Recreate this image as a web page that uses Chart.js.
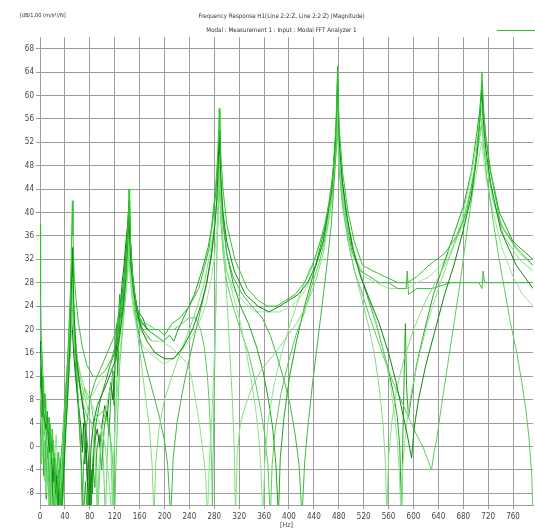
<!DOCTYPE html>
<html><head><meta charset="utf-8">
<script src="https://cdn.jsdelivr.net/npm/chart.js@4.4.0/dist/chart.umd.min.js"></script>
<style>html,body{margin:0;padding:0;background:#fff;}canvas{display:block;}</style>
</head><body>
<canvas id="c" width="535" height="530"></canvas>
<script>
const titleText = "Frequency Response H1(Line 2:2:Z, Line 2:2:Z) (Magnitude)";
const subtitleText = "Modal : Measurement 1 : Input : Modal FFT Analyzer 1";
const yUnit = "[dB/1.00 (m/s\u00B2)/N]";
const xUnit = "[Hz]";
const xTicks = [0,40,80,120,160,200,240,280,320,360,400,440,480,520,560,600,640,680,720,760];
const yTicks = [-8,-4,0,4,8,12,16,20,24,28,32,36,40,44,48,52,56,60,64,68];

const curve1 = [[0,38],[1,26],[2,19],[4,14],[6,9],[9,6],[12,3],[15,5],[18,-2],[21,1],[24,-5],[27,-9],[30,-4],[33,-11],[36,-3],[40,6],[44,14],[47,22],[49,27],[51,37],[52,42],[53,36],[55,29],[58,25],[62,21],[68,17],[75,14],[85,12],[95,12],[105,13],[115,15],[123,18],[131,24],[137,29],[140,34],[142,39],[143,44],[144,39],[146,34],[149,29],[155,24],[163,21],[175,20],[190,20],[200,19],[212,21],[225,22],[240,24],[255,27],[265,31],[272,34],[276,38],[282,44],[285,49],[287,54],[288,57.8],[289,53],[291,49],[294,44],[300,38],[313,32],[333,27],[350,25],[365,24],[380,24],[395,25],[410,26],[425,28],[438,31],[450,35],[458,38],[465,42],[470,46],[475,54],[477,60],[478,65],[479,60],[481,54],[486,47],[495,40],[505,35],[518,31],[535,30],[555,29],[575,28],[590,28],[605,29],[625,31],[650,33],[670,36],[685,40],[698,47],[705,54],[708,59],[710,64],[712,59],[715,54],[722,48],[740,38],[765,34],[792,31]];

const curve2 = [[0,18],[1,17],[3,10],[5,6],[7,5],[9,3],[11,5],[13,2],[15,-1],[17,2],[19,-3],[21,-6],[23,-2],[25,-8],[27,-5],[29,-10],[31,-6],[33,-12],[36,-8],[39,-3],[42,4],[45,10],[48,17],[50,25],[52,34],[53,29],[55,22],[58,16],[62,12],[66,9],[70,6],[74,1],[78,-12],[82,0],[86,4],[92,7],[100,9],[108,11],[115,13],[122,15],[128,19],[134,24],[138,29],[141,35],[143,41],[144,36],[146,31],[150,27],[156,23],[163,20],[172,18],[185,16],[200,15],[215,15],[230,17],[245,20],[258,24],[268,28],[276,33],[281,38],[284,42],[286,47],[288,54],[289,50],[291,45],[294,40],[300,35],[312,30],[330,26],[350,24],[368,23],[385,24],[400,25],[415,26],[430,28],[443,31],[455,35],[463,40],[469,44],[474,51],[476,56],[478,63],[479,58],[481,52],[485,46],[492,40],[502,34],[515,29],[530,25],[545,21],[560,16],[572,11],[582,6],[590,2],[597,-2],[601,3],[608,8],[620,14],[635,20],[650,26],[665,31],[680,37],[693,43],[702,50],[706,55],[710,61],[712,56],[716,51],[724,45],[740,37],[765,31],[792,27]];

const curve3 = [[0,6],[2,4],[4,-1],[6,3],[8,-3],[10,-8],[12,-2],[14,-12],[17,-5],[20,-1],[23,-7],[26,-12],[29,-4],[32,-9],[35,-2],[38,4],[42,10],[46,17],[49,23],[51,28],[52,30],[53,26],[56,20],[60,15],[66,11],[73,8],[80,5],[85,2],[89,-3],[92,-12],[95,-3],[100,3],[107,7],[115,11],[123,15],[130,20],[135,24],[139,29],[141,33],[143,38],[144,34],[147,29],[151,24],[157,19],[163,14],[170,8],[176,3],[180,-3],[183,-12],[186,-3],[191,3],[200,8],[212,12],[225,16],[240,20],[253,24],[264,28],[273,33],[279,37],[283,41],[286,45],[288,50],[289,46],[291,41],[294,35],[298,29],[302,22],[306,14],[309,8],[312,0],[314,-12],[317,-1],[322,4],[330,7],[340,10],[355,13],[370,15],[385,17],[398,19],[412,21],[428,24],[442,28],[455,33],[463,38],[469,43],[474,50],[476,54],[478,60],[479,55],[481,50],[485,44],[493,37],[503,31],[515,26],[527,21],[537,16],[545,10],[551,4],[555,-3],[557,-12],[560,-2],[565,4],[573,10],[585,15],[600,20],[620,25],[640,29],[660,33],[678,38],[692,44],[700,49],[706,53],[710,56],[713,52],[718,48],[728,42],[745,36],[770,32],[792,30]];

const curve4 = [[0,4],[2,8],[4,2],[6,-4],[8,1],[10,-6],[12,0],[14,-4],[16,-10],[18,-2],[20,3],[22,-3],[24,-12],[27,-4],[30,-1],[33,-8],[36,-12],[39,2],[43,10],[47,18],[50,25],[52,32],[53,27],[55,21],[58,15],[61,9],[64,3],[66,-3],[68,-12],[70,-3],[74,3],[80,8],[88,11],[96,13],[104,15],[112,17],[120,19],[127,23],[133,26],[138,31],[141,35],[143,40],[144,36],[146,31],[150,26],[156,21],[163,17],[172,13],[182,9],[192,5],[200,1],[205,-3],[210,-12],[214,-2],[220,4],[230,10],[242,16],[255,22],[266,27],[274,32],[280,37],[284,42],[286,46],[288,52],[289,48],[291,43],[294,38],[300,33],[310,29],[325,26],[340,24],[357,22],[370,19],[382,15],[393,11],[402,7],[410,2],[416,-3],[421,-12],[425,-3],[430,3],[437,10],[445,17],[453,24],[461,31],[468,38],[473,46],[476,53],[478,62],[479,57],[481,51],[485,44],[492,38],[502,33],[515,30],[530,29],[545,28],[560,28],[575,27],[588,27],[590,30],[592,26],[605,27],[630,27],[660,28],[690,28],[705,28],[710,27],[712,30],[714,28],[730,28],[760,28],[792,28]];

const curve5 = [[0,10],[2,6],[4,9],[6,2],[8,5],[10,-2],[12,3],[14,-5],[16,0],[18,-8],[20,-12],[23,-3],[26,2],[29,-5],[32,-12],[35,-6],[38,0],[42,7],[46,14],[49,20],[51,25],[52,28],[53,24],[56,19],[60,15],[66,12],[72,10],[80,8],[88,6],[96,4],[103,1],[108,-3],[112,-7],[115,-12],[118,-2],[122,6],[127,14],[131,19],[135,23],[139,28],[141,32],[143,36],[144,32],[147,27],[151,23],[158,20],[168,19],[180,18],[195,18],[210,17],[220,16],[230,15],[237,14],[243,12],[250,8],[256,4],[262,-1],[266,-5],[269,-12],[272,-3],[276,5],[280,15],[283,26],[285,36],[286,41],[288,48],[289,45],[291,40],[294,35],[300,30],[310,26],[320,22],[330,17],[340,11],[347,6],[352,1],[355,-4],[358,-12],[361,-3],[366,4],[375,10],[388,16],[402,21],[418,26],[432,30],[445,33],[455,37],[463,41],[469,45],[474,50],[476,53],[478,58],[479,54],[481,49],[486,43],[495,37],[507,32],[520,28],[532,24],[543,20],[553,16],[562,11],[569,6],[574,1],[577,-4],[580,-12],[583,-3],[588,3],[596,9],[608,15],[622,21],[640,27],[660,33],[678,39],[692,46],[700,51],[706,55],[710,58],[713,53],[718,48],[728,42],[745,37],[770,33],[792,31]];

const curve6 = [[0,2],[2,-3],[4,4],[6,-1],[8,-6],[10,0],[12,-4],[14,2],[16,-6],[18,-10],[20,-2],[22,-6],[24,-1],[26,-8],[28,-12],[31,-5],[34,-9],[37,-2],[41,5],[45,11],[48,16],[50,21],[52,26],[53,23],[56,18],[60,14],[65,10],[70,7],[76,5],[84,4],[92,5],[100,6],[106,5],[111,3],[115,0],[118,-5],[120,-12],[122,-3],[125,6],[128,14],[132,19],[136,24],[139,28],[141,31],[143,35],[144,32],[147,27],[152,23],[160,21],[172,21],[185,20],[200,20],[215,20],[228,21],[240,22],[250,22],[258,20],[264,17],[269,12],[272,7],[274,2],[276,-4],[277,-12],[278,-2],[280,10],[282,22],[284,32],[286,39],[288,46],[289,43],[291,38],[294,33],[300,28],[310,24],[322,20],[335,16],[346,11],[355,6],[361,2],[366,-3],[370,-12],[373,-3],[378,3],[387,9],[398,14],[411,19],[425,23],[438,28],[450,32],[459,36],[466,40],[471,44],[475,49],[477,52],[478,56],[479,52],[481,47],[486,41],[495,35],[505,30],[515,27],[527,23],[540,19],[553,15],[567,11],[580,8],[592,5],[605,2],[615,0],[622,-2],[629,-4],[633,-1],[637,1],[645,7],[655,14],[665,21],[675,28],[685,36],[693,42],[700,48],[705,52],[710,55],[713,51],[718,46],[726,40],[736,33],[746,27],[756,21],[766,16],[774,11],[781,6],[786,1],[790,-5],[792,-12]];

const curve7 = [[0,14],[2,9],[4,12],[6,6],[8,9],[10,3],[12,6],[14,0],[16,4],[18,-3],[20,1],[22,-6],[24,-2],[26,-10],[28,-4],[30,-12],[33,-3],[36,1],[40,8],[44,14],[47,19],[50,25],[52,30],[53,26],[55,21],[58,16],[62,12],[66,9],[70,6],[74,3],[78,-2],[82,-12],[85,-2],[90,4],[97,8],[105,11],[113,14],[120,16],[126,22],[128,26],[130,22],[133,24],[137,30],[140,36],[143,42],[144,38],[146,33],[150,28],[155,24],[160,22],[166,21],[172,20],[185,19],[198,18],[208,19],[215,18],[222,20],[235,23],[248,26],[260,30],[270,34],[277,38],[282,43],[285,47],[288,53],[289,49],[291,44],[294,39],[300,33],[310,28],[322,24],[335,21],[348,17],[358,13],[367,8],[374,3],[379,-3],[383,-12],[386,-2],[392,5],[401,12],[412,18],[425,24],[438,29],[450,34],[459,38],[466,43],[471,47],[475,53],[477,57],[478,61],[479,57],[481,51],[486,45],[495,38],[505,33],[516,29],[528,25],[540,21],[550,17],[560,13],[568,9],[574,5],[578,0],[581,-12],[583,2],[585,12],[587,21],[589,10],[592,5],[596,8],[605,14],[618,20],[632,26],[648,31],[664,36],[680,41],[693,47],[701,53],[706,57],[710,62],[712,58],[716,53],[724,47],[738,40],[760,35],[792,32]];

const curve8 = [[0,12],[2,16],[4,8],[6,12],[8,4],[10,8],[12,0],[14,5],[16,-3],[18,3],[20,-5],[22,0],[24,-8],[26,-3],[28,-12],[30,-6],[32,-2],[34,-9],[37,-3],[41,4],[45,10],[49,17],[51,21],[52,24],[53,21],[56,17],[60,13],[65,10],[71,8],[78,8],[86,9],[95,11],[104,12],[112,13],[120,14],[127,18],[133,22],[138,26],[141,29],[143,33],[144,30],[147,26],[152,22],[158,19],[166,17],[176,16],[188,15],[200,14],[212,15],[225,16],[240,18],[255,21],[266,24],[274,28],[280,32],[284,37],[286,41],[288,45],[289,42],[291,38],[294,34],[300,30],[310,27],[325,25],[345,23],[365,23],[385,23],[405,24],[422,26],[437,29],[450,33],[459,37],[466,41],[471,45],[475,50],[477,52],[478,55],[479,52],[481,47],[487,41],[496,36],[508,32],[522,29],[540,28],[560,27],[578,27],[590,27],[605,28],[625,29],[645,31],[663,34],[680,38],[692,42],[700,46],[706,50],[710,52],[713,49],[718,45],[728,40],[742,34],[760,29],[775,26],[792,24]];

const curve9 = [[0,17],[1,12],[2,8],[3,5],[4,7],[5,4],[6,6],[7,2],[8,5],[9,0],[10,3],[11,-2],[12,1],[13,-4],[14,-1],[15,-6],[16,-2],[17,-8],[18,-4],[19,-10],[20,-5],[21,-12],[22,-6],[23,-9],[24,-3],[25,-10],[26,-6],[27,-12],[28,-7],[29,-10],[30,-5],[31,-11],[32,-8],[34,-12],[36,-6],[38,-2],[41,4],[44,9],[47,14],[49,18],[51,22],[52,20],[54,16],[57,12],[60,9],[63,6],[66,3],[68,-1],[70,4],[72,-3],[74,1],[76,-6],[78,-2],[80,-10],[82,-4],[84,-8],[86,-2],[88,1],[92,3],[96,0],[100,4],[104,7],[108,5],[111,9],[114,11],[117,8],[120,13],[123,17],[126,20],[129,24],[132,28],[135,31],[138,35],[141,38],[143,42],[145,36],[148,30],[152,26],[158,23],[165,22],[172,20]];

const curve10 = [[0,5],[2,0],[4,3],[6,-5],[8,-1],[10,-9],[12,-3],[15,-12],[18,-6],[21,-2],[24,-9],[27,-4],[30,-12],[33,-7],[36,-10],[38,-3],[42,6],[46,13],[49,19],[51,24],[52,27],[53,24],[55,18],[58,12],[61,7],[64,2],[67,-4],[70,-12],[73,-6],[76,-12],[79,-5],[82,-10],[85,-3],[88,-7],[91,-1],[95,2],[99,-4],[103,3],[107,6],[111,2],[114,9],[117,13],[119,7],[121,16],[123,21],[125,12],[127,19],[130,24],[134,28],[138,33],[141,37],[143,40],[145,35],[148,30],[152,26],[158,22],[165,20],[172,19],[180,18]];

const curve11 = [[0,8],[2,12],[4,5],[6,9],[8,2],[10,6],[12,-1],[14,3],[16,-4],[18,0],[20,-7],[22,-2],[24,-10],[26,-5],[28,-1],[30,-8],[32,-3],[35,-12],[38,-5],[41,2],[45,9],[48,15],[51,22],[52,25],[53,22],[56,17],[60,13],[64,10],[68,8],[72,10],[76,8],[80,9],[84,6],[88,3],[91,-3],[93,-12],[96,-4],[99,2],[102,-3],[105,-12],[108,-2],[111,5],[114,-1],[117,-12],[120,2],[123,10],[126,17],[129,22],[132,25],[136,29],[140,34],[143,38],[145,34],[148,29],[152,25],[158,21],[166,20]];

const curves = [curve1, curve2, curve3, curve4, curve5, curve6, curve7, curve8, curve9, curve10, curve11];
const curveColors = ['#2fc42f','#0a8a0a','#7fdf7f','#3dbb3d','#8be58b','#58cf58','#1fa61f','#9ae79a','#0b7a0b','#2aa52a','#6bd86b'];

const overlay = {
  id: 'overlay',
  afterDraw(chart) {
    const {ctx, chartArea: a} = chart;
    ctx.save();
    ctx.fillStyle = '#333';
    ctx.font = "6.2px 'Liberation Sans Narrow', 'DejaVu Sans Condensed', sans-serif";
    ctx.textBaseline = 'middle';
    ctx.textAlign = 'center';
    const cx = (a.left + a.right) / 2 - 5;
    ctx.fillText(titleText, cx, 16);
    ctx.fillText(subtitleText, cx, 30);
    ctx.textAlign = 'left';
    ctx.font = "5.6px 'Liberation Sans Narrow', 'DejaVu Sans Condensed', sans-serif";
    ctx.fillText(yUnit, 20, 16);
    ctx.strokeStyle = '#33bb33';
    ctx.lineWidth = 1;
    ctx.beginPath();
    ctx.moveTo(a.right - 36, 30.5);
    ctx.lineTo(chart.width, 30.5);
    ctx.stroke();
    ctx.restore();
  }
};

const tickFont = {family: "'Liberation Sans Narrow', 'DejaVu Sans Condensed', sans-serif", size: 8};

new Chart(document.getElementById('c'), {
  type: 'line',
  data: {
    datasets: curves.map((c, i) => ({
      data: c.map(p => ({x: p[0], y: p[1]})),
      borderColor: curveColors[i],
      borderWidth: 1,
      pointRadius: 0,
      tension: 0,
      fill: false
    }))
  },
  options: {
    responsive: false,
    animation: false,
    devicePixelRatio: 1,
    layout: {padding: {top: 37, right: 2, left: 0, bottom: 0}},
    plugins: {legend: {display: false}, tooltip: {enabled: false}},
    scales: {
      x: {
        type: 'linear', min: 0, max: 792,
        afterBuildTicks: s => { s.ticks = xTicks.map(v => ({value: v})); },
        afterFit: s => { s.height = 25; },
        grid: {color: '#9c9c9c', lineWidth: 1, tickLength: 4},
        border: {color: '#9c9c9c'},
        ticks: {font: tickFont, color: '#444', maxRotation: 0, autoSkip: false, padding: 3},
        title: {display: true, text: xUnit, font: {family: tickFont.family, size: 7}, color: '#444', padding: {top: 0, bottom: 1}}
      },
      y: {
        min: -10, max: 70,
        afterBuildTicks: s => { s.ticks = yTicks.map(v => ({value: v})); },
        afterFit: s => { s.width = 40; },
        grid: {color: '#9c9c9c', lineWidth: 1, tickLength: 4},
        border: {color: '#9c9c9c'},
        ticks: {font: tickFont, color: '#444', autoSkip: false, padding: 2}
      }
    }
  },
  plugins: [overlay]
});
</script>
</body></html>
